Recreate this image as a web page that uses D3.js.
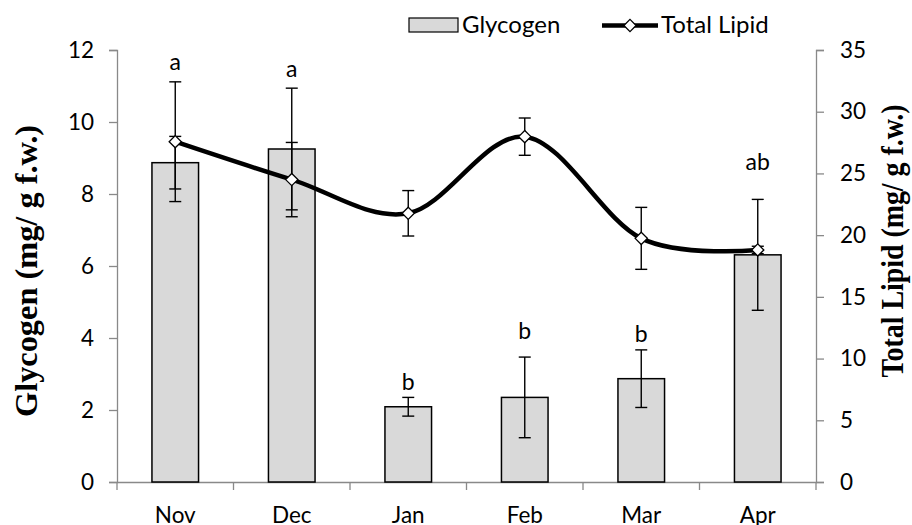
<!DOCTYPE html>
<html>
<head>
<meta charset="utf-8">
<script src="https://cdn.jsdelivr.net/npm/d3@7"></script>
<style>
  body { margin: 0; background: #fff; }
  text { font-family: Lato, "Open Sans", sans-serif; fill: #000; }
  .title { font-family: "Liberation Serif", "Times New Roman", serif; font-weight: bold; }
</style>
</head>
<body>
<div id="chart"></div>
<script>
// values
var months = ["Nov", "Dec", "Jan", "Feb", "Mar", "Apr"];
var glycogen = [8.87, 9.25, 2.09, 2.35, 2.87, 6.31];
var glycogenErr = [0.73, 1.69, 0.26, 1.12, 0.8, 1.54];
var lipid = [27.57, 24.5, 21.77, 27.98, 19.74, 18.8];
var lipidErr = [4.85, 3.01, 1.84, 1.51, 2.51, 0.3];
var letters = ["a", "a", "b", "b", "b", "ab"];
var letterAt = [11.44, 11.25, 2.56, 3.97, 3.9, 8.67]; // glycogen units
var leftTicks = [0, 2, 4, 6, 8, 10, 12];
var rightTicks = [0, 5, 10, 15, 20, 25, 30, 35];

var width = 912, height = 525;
var margin = { top: 50, right: 96, bottom: 43, left: 117 };
var axisColor = "#898989";

var svg = d3.select("#chart").append("svg")
  .attr("width", width)
  .attr("height", height);

var x = d3.scaleBand()
  .domain(months)
  .range([margin.left, width - margin.right])
  .paddingInner(0.6)
  .paddingOuter(0.3);
var yL = d3.scaleLinear().domain([0, 12]).range([height - margin.bottom, margin.top]);
var yR = d3.scaleLinear().domain([0, 35]).range([height - margin.bottom, margin.top]);
var cx = (m) => x(m) + x.bandwidth() / 2;
var gap = (x.step() - x.bandwidth()) / 2;

// axes
var axisL = svg.append("g")
  .attr("transform", `translate(${margin.left},0)`)
  .call(d3.axisLeft(yL).tickValues(leftTicks).tickSize(8).tickPadding(15));
var axisR = svg.append("g")
  .attr("transform", `translate(${width - margin.right},0)`)
  .call(d3.axisRight(yR).tickValues(rightTicks).tickSize(8).tickPadding(16));
[axisL, axisR].forEach((g) => {
  g.select(".domain").attr("stroke", axisColor).attr("stroke-width", 1.3);
  g.selectAll(".tick line").attr("stroke", axisColor).attr("stroke-width", 1.3);
  g.selectAll(".tick text").style("font-size", "22.5px").attr("fill", "#000");
});

var xAxis = svg.append("g")
  .attr("transform", `translate(0,${height - margin.bottom})`)
  .call(d3.axisBottom(x).tickSize(0).tickPadding(25));
xAxis.select(".domain").attr("stroke", axisColor).attr("stroke-width", 1.3);
xAxis.selectAll(".tick text").style("font-size", "22.5px").attr("fill", "#000");
// category separators
var edges = months.map((m) => x(m) - gap).concat([x(months[5]) + x.bandwidth() + gap]);
xAxis.selectAll("line.sep")
  .data(edges)
  .enter().append("line")
  .attr("class", "sep")
  .attr("x1", (d) => d).attr("x2", (d) => d)
  .attr("y1", 0).attr("y2", 8)
  .attr("stroke", axisColor)
  .attr("stroke-width", 1.3);

// bars
svg.append("g").selectAll("rect")
  .data(months)
  .enter().append("rect")
  .attr("x", (d) => x(d))
  .attr("y", (d, i) => yL(glycogen[i]))
  .attr("width", x.bandwidth())
  .attr("height", (d, i) => yL(0) - yL(glycogen[i]))
  .attr("fill", "#d9d9d9")
  .attr("stroke", "#000")
  .attr("stroke-width", 1.5);

function errorBars(g, vals, errs, scale) {
  var cap = 6;
  var eb = g.selectAll("g")
    .data(months)
    .enter().append("g");
  eb.append("line")
    .attr("x1", (d) => cx(d)).attr("x2", (d) => cx(d))
    .attr("y1", (d, i) => scale(vals[i] + errs[i]))
    .attr("y2", (d, i) => scale(vals[i] - errs[i]));
  eb.append("line")
    .attr("x1", (d) => cx(d) - cap).attr("x2", (d) => cx(d) + cap)
    .attr("y1", (d, i) => scale(vals[i] + errs[i]))
    .attr("y2", (d, i) => scale(vals[i] + errs[i]));
  eb.append("line")
    .attr("x1", (d) => cx(d) - cap).attr("x2", (d) => cx(d) + cap)
    .attr("y1", (d, i) => scale(vals[i] - errs[i]))
    .attr("y2", (d, i) => scale(vals[i] - errs[i]));
  g.selectAll("line").attr("stroke", "#000").attr("stroke-width", 1.4);
}

errorBars(svg.append("g"), glycogen, glycogenErr, yL);

// lipid line
var line = d3.line()
  .x((d) => cx(d))
  .y((d, i) => yR(lipid[i]))
  .curve(d3.curveCardinal.tension(0));
svg.append("path")
  .datum(months)
  .attr("d", line)
  .attr("fill", "none")
  .attr("stroke", "#000")
  .attr("stroke-width", 4.5);

errorBars(svg.append("g"), lipid, lipidErr, yR);

var diamond = d3.symbol().type(d3.symbolDiamond2).size(95);
svg.append("g").selectAll("path")
  .data(months)
  .enter().append("path")
  .attr("d", diamond)
  .attr("transform", (d, i) => `translate(${cx(d)},${yR(lipid[i])})`)
  .attr("fill", "#fff")
  .attr("stroke", "#000")
  .attr("stroke-width", 1.3);

// significance letters
svg.append("g").selectAll("text")
  .data(months)
  .enter().append("text")
  .attr("x", (d) => cx(d))
  .attr("y", (d, i) => yL(letterAt[i]))
  .attr("text-anchor", "middle")
  .style("font-size", "23px")
  .text((d, i) => letters[i]);

// axis titles
svg.append("text")
  .attr("class", "title")
  .attr("transform", `translate(37,271) rotate(-90)`)
  .attr("text-anchor", "middle")
  .attr("textLength", 292)
  .attr("lengthAdjust", "spacingAndGlyphs")
  .style("font-size", "32px")
  .text("Glycogen (mg/ g f.w.)");
svg.append("text")
  .attr("class", "title")
  .attr("transform", `translate(903,241) rotate(-90)`)
  .attr("text-anchor", "middle")
  .attr("textLength", 273)
  .attr("lengthAdjust", "spacingAndGlyphs")
  .style("font-size", "32px")
  .text("Total Lipid (mg/ g f.w.)");

// legend
var legend = svg.append("g");
legend.append("rect")
  .attr("x", 409).attr("y", 18)
  .attr("width", 49).attr("height", 14)
  .attr("fill", "#d9d9d9")
  .attr("stroke", "#000")
  .attr("stroke-width", 1.2);
legend.append("text")
  .attr("x", 462).attr("y", 33)
  .style("font-size", "24px")
  .text("Glycogen");
legend.append("line")
  .attr("x1", 602).attr("x2", 658)
  .attr("y1", 25.5).attr("y2", 25.5)
  .attr("stroke", "#000")
  .attr("stroke-width", 4.5);
legend.append("path")
  .attr("d", diamond)
  .attr("transform", "translate(630,25.5)")
  .attr("fill", "#fff")
  .attr("stroke", "#000")
  .attr("stroke-width", 1.3);
legend.append("text")
  .attr("x", 661).attr("y", 33)
  .style("font-size", "24px")
  .text("Total Lipid");
</script>
</body>
</html>
